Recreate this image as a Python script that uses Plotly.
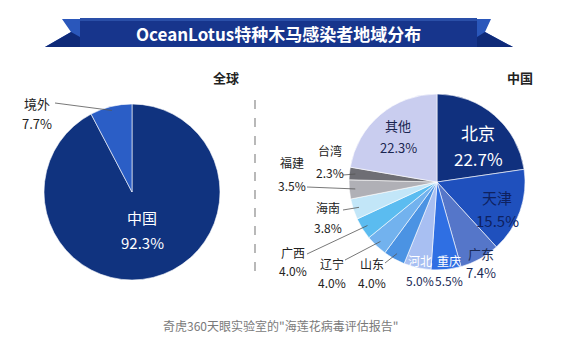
import math
import plotly.graph_objects as go

# ---------------- data ----------------
global_labels = ["中国", "境外"]
global_values = [92.3, 7.7]

china_labels = ["北京", "天津", "广东", "重庆", "河北", "山东", "辽宁",
                "广西", "海南", "福建", "台湾", "其他"]
china_values = [22.7, 15.5, 7.4, 5.5, 5.0, 4.0, 4.0, 4.0, 3.8, 3.5, 2.3, 22.3]

title_text = "OceanLotus特种木马感染者地域分布"
left_header = "全球"
right_header = "中国"
caption_text = '奇虎360天眼实验室的"海莲花病毒评估报告"'

# ---------------- styles / layout ----------------
W, H = 562, 347
FONT = "Noto Sans CJK SC"
global_colors = ["#10337f", "#2b5ec6"]
china_colors = ["#10307e", "#1f50bd", "#5576c9", "#2f6fe3", "#a8bff2", "#4b93e3",
                "#72b2ee", "#5bbcf0", "#c2e6f8", "#b0b0b6", "#6e6e74", "#c9cdef"]

L_CX, L_CY, L_R = 132, 192, 88
R_CX, R_CY, R_R = 437, 182, 88


def px(x):
    return x / W


def py(y):
    return 1 - y / H


def domain(cx, cy, r):
    return dict(x=[px(cx - r), px(cx + r)], y=[py(cy + r), py(cy - r)])


def mid_edge(values, i, cx, cy, r):
    tot = sum(values)
    a = (sum(values[:i]) + values[i] / 2) / tot * 2 * math.pi
    return cx + r * math.sin(a), cy - r * math.cos(a)


fig = go.Figure()
fig.add_trace(go.Pie(labels=global_labels, values=global_values, sort=False,
                     direction="clockwise", rotation=0, textinfo="none",
                     hoverinfo="label+percent",
                     marker=dict(colors=global_colors, line=dict(color="white", width=0.6)),
                     domain=domain(L_CX, L_CY, L_R), showlegend=False))
fig.add_trace(go.Pie(labels=china_labels, values=china_values, sort=False,
                     direction="clockwise", rotation=0, textinfo="none",
                     hoverinfo="label+percent",
                     marker=dict(colors=china_colors, line=dict(color="white", width=0.6)),
                     domain=domain(R_CX, R_CY, R_R), showlegend=False))

shapes = []
annotations = []


def text(x, y, s, size=13, color="#222", bold=False):
    annotations.append(dict(x=px(x), y=py(y), xref="paper", yref="paper", text=("<b>%s</b>" % s) if bold else s,
                            showarrow=False, xanchor="center", yanchor="middle",
                            font=dict(family=FONT, size=size, color=color)))


def line(x0, y0, x1, y1, color="#666", width=1, dash=None):
    d = dict(type="line", xref="paper", yref="paper", x0=px(x0), y0=py(y0), x1=px(x1), y1=py(y1),
             line=dict(color=color, width=width))
    if dash:
        d["line"]["dash"] = dash
    shapes.append(d)


def poly(points, color):
    path = "M " + " L ".join("%f,%f" % (px(a), py(b)) for a, b in points) + " Z"
    shapes.append(dict(type="path", xref="paper", yref="paper", path=path,
                       fillcolor=color, line=dict(width=0), layer="above"))


# ---------------- title ribbon ----------------
poly([(62, 19), (80, 19), (80, 47), (45, 47), (71, 32)], "#2a57bb")
poly([(45, 47), (71, 32), (80, 37), (80, 47)], "#0f2a78")
poly([(491, 19), (477, 19), (477, 47), (513, 47), (485, 32)], "#2a57bb")
poly([(513, 47), (485, 32), (477, 37), (477, 47)], "#0f2a78")
poly([(80, 18), (477, 18), (477, 47), (80, 47)], "#17358c")
poly([(80, 18), (477, 18), (477, 21), (80, 21)], "#2a4fa8")
text(278, 33, title_text, size=17, color="white", bold=True)

# ---------------- headers, divider, caption ----------------
text(226, 78, left_header, size=13, color="#222", bold=True)
text(520, 78, right_header, size=13, color="#222", bold=True)
line(255, 100, 255, 277, color="#8a8a8a", width=1.2, dash="dash")
text(280, 325, caption_text, size=12, color="#7a7a7a")


def pct(v):
    return "%.1f%%" % v


# ---------------- left pie labels ----------------
# label: (x, y_label, y_value, label colour, value colour, size, leader start)
left_pos = {
    "中国": (142, 217, 242, "white", "white", 15, None),
    "境外": (37, 103, 123, "#222", "#222", 13, (55, 103)),
}
for i, lab in enumerate(global_labels):
    x, yl, yv, cl, cv, sz, lead = left_pos[lab]
    text(x, yl, lab, size=sz, color=cl)
    text(x, yv, pct(global_values[i]), size=sz, color=cv)
    if lead:
        ex, ey = mid_edge(global_values, i, L_CX, L_CY, L_R - 4)
        line(lead[0], lead[1], ex, ey, color="#555", width=0.8)

# ---------------- right pie labels ----------------
right_pos = {
    "北京": (478, 132, 158, "white", "white", 17, None),
    "天津": (497, 197, 220, "#0e2160", "#0e2160", 15, None),
    "广东": (481, 253, 272, "#1a2a55", "#1a2a55", 13, None),
    "重庆": (449, 260, 280, "white", "#1a2a55", 12, None),
    "河北": (420, 260, 280, "white", "#1a2a55", 12, None),
    "山东": (372, 263, 282, "#222", "#222", 12, (385, 263)),
    "辽宁": (332, 263, 282, "#222", "#222", 12, (345, 260)),
    "广西": (293, 252, 270, "#222", "#222", 12, (307, 254)),
    "海南": (328, 207, 227, "#222", "#222", 12, (343, 210)),
    "福建": (292, 162, 185, "#222", "#222", 12, (307, 187)),
    "台湾": (330, 150, 172, "#222", "#222", 12, (343, 175)),
    "其他": (398, 125, 147, "#1a2550", "#1a2550", 13, None),
}
for i, lab in enumerate(china_labels):
    x, yl, yv, cl, cv, sz, lead = right_pos[lab]
    text(x, yl, lab, size=sz, color=cl)
    text(x, yv, pct(china_values[i]), size=sz, color=cv)
    if lead:
        ex, ey = mid_edge(china_values, i, R_CX, R_CY, R_R - 6)
        line(lead[0], lead[1], ex, ey, color="#555", width=0.8)

fig.update_layout(width=W, height=H, margin=dict(l=0, r=0, t=0, b=0),
                  paper_bgcolor="white", plot_bgcolor="white",
                  shapes=shapes, annotations=annotations,
                  font=dict(family=FONT))
fig.write_html("out.html")
